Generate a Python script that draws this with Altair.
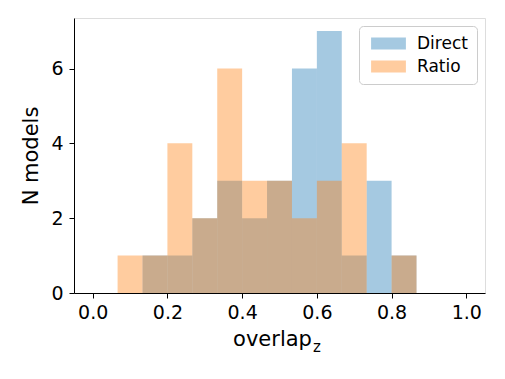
import altair as alt
import pandas as pd

n_bins = 15
bin_lo = [i / n_bins for i in range(n_bins)]
bin_hi = [(i + 1) / n_bins for i in range(n_bins)]
direct_counts = [0, 0, 1, 1, 2, 3, 2, 3, 6, 7, 1, 3, 1, 0, 0]
ratio_counts = [0, 1, 1, 4, 2, 6, 3, 3, 2, 3, 4, 0, 1, 0, 0]
series = ["Direct", "Ratio"]
x_ticks = [0.0, 0.2, 0.4, 0.6, 0.8, 1.0]
y_ticks = [0, 2, 4, 6]

rows = []
for name, counts in zip(series, [direct_counts, ratio_counts]):
    for lo, hi, c in zip(bin_lo, bin_hi, counts):
        if c > 0:
            rows.append({"series": name, "lo": lo, "hi": hi, "count": c})
df = pd.DataFrame(rows)

W, H = 411, 275
FONT = "DejaVu Sans"

bars = alt.Chart(df).mark_rect(opacity=0.4).encode(
    x=alt.X("lo:Q", scale=alt.Scale(domain=[-0.05, 1.05], nice=False, zero=False),
            axis=alt.Axis(values=x_ticks, format=".1f", title="overlap", grid=False,
                          tickSize=5, tickColor="black", domainColor="black",
                          labelColor="black", titleColor="black", labelFontSize=19,
                          titleFontSize=21, titleFontWeight="normal", labelFont=FONT,
                          titleFont=FONT, labelPadding=5, titlePadding=6, titleX=198)),
    x2="hi:Q",
    y=alt.Y("count:Q", scale=alt.Scale(domain=[0, 7.35], nice=False),
            axis=alt.Axis(values=y_ticks, title="N models", grid=False,
                          tickSize=5, tickColor="black", domainColor="black",
                          labelColor="black", titleColor="black", labelFontSize=19,
                          titleFontSize=21, titleFontWeight="normal", labelFont=FONT,
                          titleFont=FONT, labelPadding=6, titlePadding=9)),
    y2=alt.datum(0),
    color=alt.Color("series:N", scale=alt.Scale(domain=series, range=["#1f77b4", "#ff7f0e"]),
                    legend=alt.Legend(title=None, orient="top-right", offset=8,
                                      labelFontSize=17, labelFont=FONT, labelColor="black",
                                      symbolType="M-2.9,-1L2.9,-1L2.9,1L-2.9,1Z",
                                      symbolSize=144, symbolOpacity=0.4, symbolStrokeWidth=0,
                                      symbolOffset=12,
                                      strokeColor="#cccccc", fillColor="white",
                                      cornerRadius=4, padding=9, rowPadding=5,
                                      labelOffset=20)),
    order=alt.Order("series:N"),
)

sub = alt.Chart(pd.DataFrame({"t": ["z"]})).mark_text(
    font=FONT, fontSize=15, color="black", align="left", baseline="alphabetic"
).encode(text="t:N", x=alt.value(239), y=alt.value(H + 59))

chart = alt.layer(bars, sub).properties(
    width=W, height=H, padding={"left": 12, "top": 10, "right": 5, "bottom": 5}
).configure_view(stroke="black", strokeWidth=1.3).configure_legend(
    strokeWidth=1
).configure(background="white")

chart.save("out.html", embed_options={"renderer": "svg", "actions": False})
